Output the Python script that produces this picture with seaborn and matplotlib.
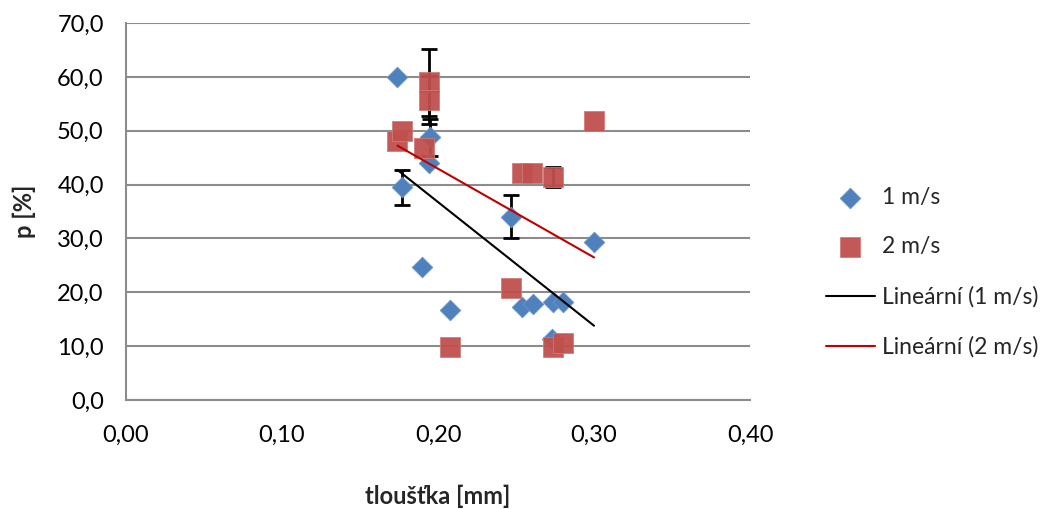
import numpy as np
import pandas as pd
import matplotlib
matplotlib.use("Agg")
import matplotlib.pyplot as plt
import seaborn as sns
from matplotlib.ticker import FuncFormatter

# -------------------------------------------------
# data
# -------------------------------------------------
x_1ms = [0.174, 0.177, 0.194, 0.195, 0.190, 0.208, 0.247, 0.300, 0.254, 0.261, 0.274, 0.280, 0.273]
y_1ms = [60.0, 39.5, 44.0, 48.8, 24.7, 16.7, 34.0, 29.4, 17.2, 17.8, 18.2, 18.2, 11.3]
err_1ms = [0, 3.2, 0, 3.4, 0, 0, 4.0, 0, 0, 0, 0, 0, 0]

x_2ms = [0.174, 0.177, 0.191, 0.194, 0.194, 0.208, 0.247, 0.254, 0.260, 0.274, 0.274, 0.280, 0.300]
y_2ms = [48.1, 50.0, 46.8, 59.0, 55.7, 9.8, 20.8, 42.1, 42.1, 41.4, 9.8, 10.6, 51.8]
err_2ms = [0, 0, 0, 6.2, 4.5, 0, 0, 0, 0, 1.9, 0, 0, 0]

labels = ["1 m/s", "2 m/s", "Lineární (1 m/s)", "Lineární (2 m/s)"]

BLUE = "#4F81BD"
RED = "#C0504D"
GRID = "#8C8C8C"

df1 = pd.DataFrame({"x": x_1ms, "y": y_1ms, "err": err_1ms})
df2 = pd.DataFrame({"x": x_2ms, "y": y_2ms, "err": err_2ms})

sns.set_theme(style="white")
plt.rcParams["font.family"] = ["Lato", "DejaVu Sans"]

fig = plt.figure(figsize=(10.43, 5.09), dpi=100)
ax = fig.add_axes([0.1208, 0.2141, 0.5983, 0.7407])

# error bars behind markers
for d in (df1, df2):
    e = d[d["err"] > 0]
    ax.errorbar(e["x"], e["y"], yerr=e["err"], fmt="none", ecolor="black",
                elinewidth=2, capsize=6, capthick=2, zorder=2)

sns.scatterplot(data=df1, x="x", y="y", ax=ax, marker="D", s=110,
                color=BLUE, edgecolor="#6A95CC", linewidth=0.6,
                label=labels[0], zorder=3)
sns.scatterplot(data=df2, x="x", y="y", ax=ax, marker="s", s=200,
                color=RED, edgecolor="#D07A77", linewidth=0.6, alpha=0.95,
                label=labels[1], zorder=3)

sns.regplot(data=df1, x="x", y="y", ax=ax, scatter=False, ci=None,
            truncate=True, color="black", line_kws={"lw": 1.5, "zorder": 4},
            label=labels[2])
sns.regplot(data=df2, x="x", y="y", ax=ax, scatter=False, ci=None,
            truncate=True, color="#C00000", line_kws={"lw": 1.5, "zorder": 4},
            label=labels[3])

ax.set_xlim(0, 0.40)
ax.set_ylim(0, 70)
ax.set_xticks(np.arange(0, 0.41, 0.1))
ax.set_yticks(np.arange(0, 71, 10))
ax.xaxis.set_major_formatter(FuncFormatter(lambda v, p: f"{v:.2f}".replace(".", ",")))
ax.yaxis.set_major_formatter(FuncFormatter(lambda v, p: f"{v:.1f}".replace(".", ",")))

ax.yaxis.grid(True, color=GRID, lw=1.5)
ax.xaxis.grid(False)
ax.set_axisbelow(True)
for side in ("top", "right"):
    ax.spines[side].set_visible(False)
for side in ("left", "bottom"):
    ax.spines[side].set_color(GRID)
    ax.spines[side].set_linewidth(1.5)

ax.tick_params(axis="both", which="major", direction="out", length=6,
               width=1.5, color=GRID, labelsize=17, labelcolor="black")
ax.tick_params(axis="x", pad=12)
ax.tick_params(axis="y", pad=10)

ax.set_xlabel("tloušťka [mm]", fontsize=17, fontweight="bold", labelpad=28)
ax.set_ylabel("p [%]", fontsize=17, fontweight="bold", labelpad=15)

handles, labs = ax.get_legend_handles_labels()
order = [labs.index(l) for l in labels]
fig.legend([handles[i] for i in order], [labs[i] for i in order],
           loc="center left", bbox_to_anchor=(0.772, 0.465),
           frameon=False, fontsize=16.5, handlelength=2.15,
           handletextpad=0.28, labelspacing=1.25)
if ax.get_legend():
    ax.get_legend().remove()

fig.savefig("out.png", dpi=100)
